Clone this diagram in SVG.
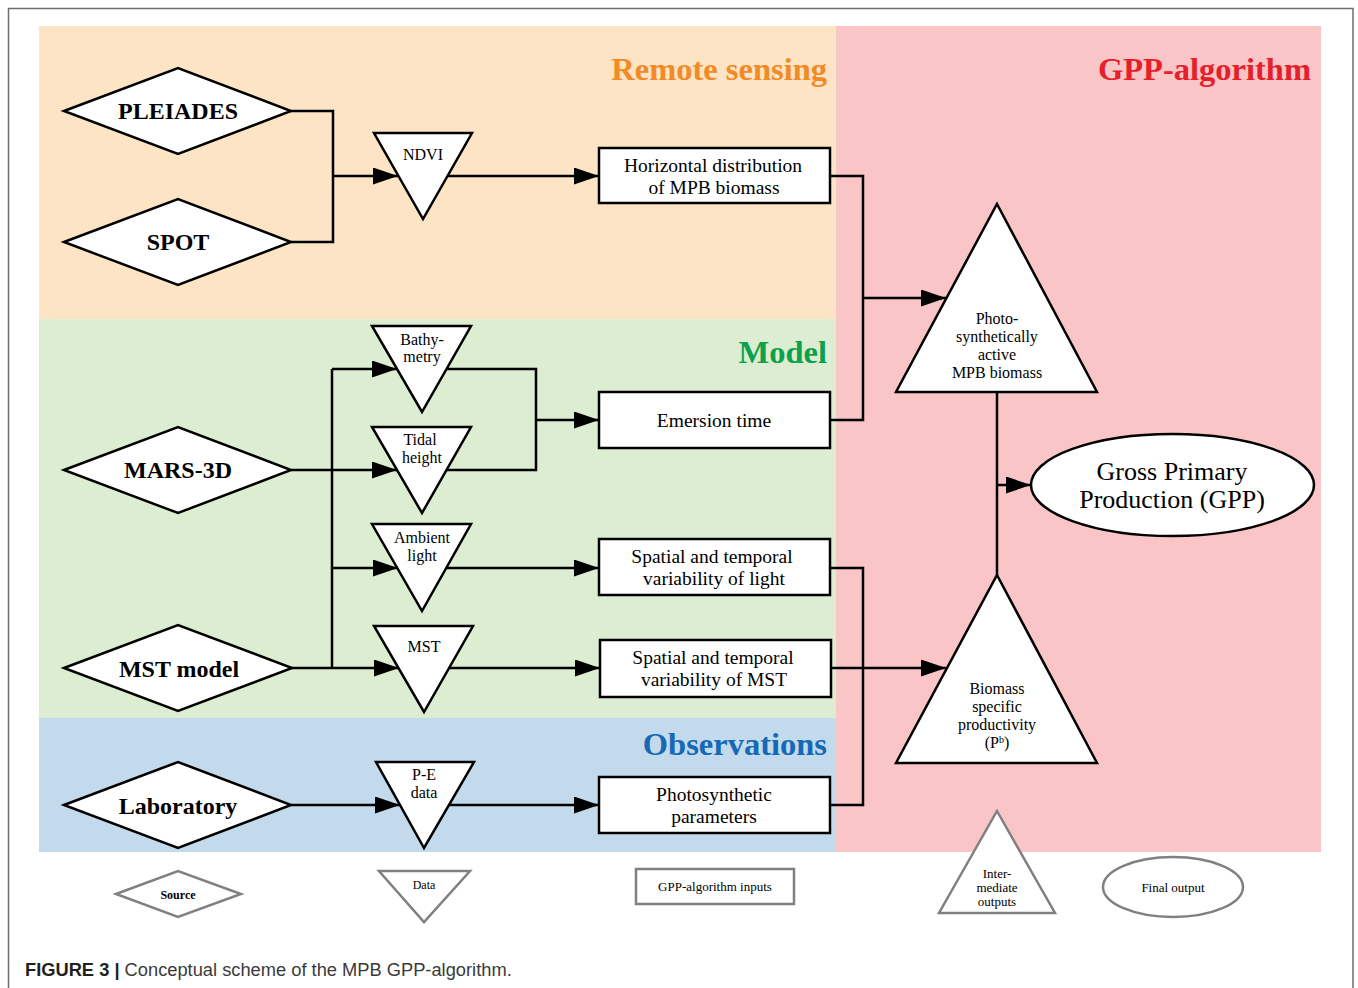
<svg xmlns="http://www.w3.org/2000/svg" width="1358" height="988" viewBox="0 0 1358 988">
<style>
.sh{fill:#fff;stroke:#000;stroke-width:2.5;stroke-linejoin:miter}
.lg{fill:#fff;stroke:#808080;stroke-width:2.5}
.cn{fill:none;stroke:#000;stroke-width:2.5}
.t{font-family:"Liberation Serif","Times New Roman",serif;text-anchor:middle;fill:#000}
.src{font-size:24px;font-weight:bold}
.dat{font-size:16px}
.box{font-size:19.5px}
.mid{font-size:16px}
.ttl{font-family:"Liberation Serif","Times New Roman",serif;font-size:32.5px;font-weight:bold;text-anchor:end}
.leg{font-size:13px}
</style>
<defs>
<marker id="ah" markerUnits="userSpaceOnUse" markerWidth="26" markerHeight="18" refX="25" refY="8.5" orient="auto">
<path d="M0,0 L25,8.5 L0,17 Z" fill="#000"/>
</marker>
</defs>
<rect width="1358" height="988" fill="#fff"/>
<path d="M8.5,988 V8.5 H1353 V988" fill="none" stroke="#6d6d6d" stroke-width="1.5"/>
<g id="backgrounds">
<rect x="39" y="26" width="797" height="293" fill="#fce4c4"/>
<rect x="39" y="319" width="797" height="399" fill="#ddedd2"/>
<rect x="39" y="718" width="797" height="134" fill="#c3daec"/>
<rect x="836" y="26" width="485" height="826" fill="#f9c5c7"/>
</g>
<g id="section-titles">
<text class="ttl" x="827" y="80" fill="#f28a25">Remote sensing</text>
<text class="ttl" x="1311" y="80" fill="#e6202a">GPP-algorithm</text>
<text class="ttl" x="827" y="363" fill="#0ca14c">Model</text>
<text class="ttl" x="827" y="755" fill="#1669b4">Observations</text>
</g>
<g id="connectors">
<path class="cn" d="M291,111 H333 V242 H291"/>
<path class="cn" d="M333,176 H398" marker-end="url(#ah)"/>
<path class="cn" d="M448,176 H599" marker-end="url(#ah)"/>
<path class="cn" d="M830,176 H863 V420 H830"/>
<path class="cn" d="M863,298 H946" marker-end="url(#ah)"/>
<path class="cn" d="M446,369 H536 V470 H446"/>
<path class="cn" d="M536,420 H599" marker-end="url(#ah)"/>
<path class="cn" d="M332,369 V668"/>
<path class="cn" d="M332,369 H397" marker-end="url(#ah)"/>
<path class="cn" d="M291,470 H397" marker-end="url(#ah)"/>
<path class="cn" d="M332,568 H398" marker-end="url(#ah)"/>
<path class="cn" d="M291,668 H399" marker-end="url(#ah)"/>
<path class="cn" d="M447,568 H599" marker-end="url(#ah)"/>
<path class="cn" d="M449,668 H600" marker-end="url(#ah)"/>
<path class="cn" d="M291,805 H400" marker-end="url(#ah)"/>
<path class="cn" d="M448,805 H599" marker-end="url(#ah)"/>
<path class="cn" d="M830,568 H863 V805 H830"/>
<path class="cn" d="M831,668 H946" marker-end="url(#ah)"/>
<path class="cn" d="M997,392 V575"/>
<path class="cn" d="M997,485 H1031" marker-end="url(#ah)"/>
</g>
<g id="pleiades">
<polygon class="sh" points="64,111 178,68 291,111 178,154"/>
<text class="t src" x="178" y="119">PLEIADES</text>
</g>
<g id="spot">
<polygon class="sh" points="64,242 178,199 291,242 178,285"/>
<text class="t src" x="178" y="250">SPOT</text>
</g>
<g id="mars3d">
<polygon class="sh" points="64,470 178,427 291,470 178,513"/>
<text class="t src" x="178" y="478">MARS-3D</text>
</g>
<g id="mstmodel">
<polygon class="sh" points="64,668 178,625 292,668 178,711"/>
<text class="t src" x="179" y="677">MST model</text>
</g>
<g id="laboratory">
<polygon class="sh" points="64,805 178,762 291,805 178,848"/>
<text class="t src" x="178" y="814">Laboratory</text>
</g>
<g id="ndvi">
<polygon class="sh" points="374,133 472,133 423,219"/>
<text class="t dat" x="423" y="160">NDVI</text>
</g>
<g id="bathymetry">
<polygon class="sh" points="372,326 471,326 422,412"/>
<text class="t dat" x="422" y="345">Bathy-</text>
<text class="t dat" x="422" y="362">metry</text>
</g>
<g id="tidal">
<polygon class="sh" points="372,427 471,427 422,513"/>
<text class="t dat" x="420" y="445">Tidal</text>
<text class="t dat" x="422" y="463">height</text>
</g>
<g id="ambient">
<polygon class="sh" points="372,524 471,524 422,611"/>
<text class="t dat" x="422" y="543">Ambient</text>
<text class="t dat" x="422" y="561">light</text>
</g>
<g id="mst">
<polygon class="sh" points="374,626 473,626 424,712"/>
<text class="t dat" x="424" y="652">MST</text>
</g>
<g id="pe">
<polygon class="sh" points="376,762 474,762 424,848"/>
<text class="t dat" x="424" y="780">P-E</text>
<text class="t dat" x="424" y="798">data</text>
</g>
<g id="horizontal">
<rect class="sh" x="599" y="148" width="231" height="55"/>
<text class="t box" x="713" y="172">Horizontal distribution</text>
<text class="t box" x="714" y="194">of MPB biomass</text>
</g>
<g id="emersion">
<rect class="sh" x="599" y="392" width="231" height="56"/>
<text class="t box" x="714" y="427">Emersion time</text>
</g>
<g id="light">
<rect class="sh" x="599" y="539" width="231" height="56"/>
<text class="t box" x="712" y="563">Spatial and temporal</text>
<text class="t box" x="714" y="585">variability of light</text>
</g>
<g id="mstvar">
<rect class="sh" x="600" y="640" width="231" height="57"/>
<text class="t box" x="713" y="664">Spatial and temporal</text>
<text class="t box" x="714" y="686">variability of MST</text>
</g>
<g id="photoparams">
<rect class="sh" x="599" y="777" width="231" height="56"/>
<text class="t box" x="714" y="801">Photosynthetic</text>
<text class="t box" x="714" y="823">parameters</text>
</g>
<g id="photobiomass">
<polygon class="sh" points="997,204 1097,392 896,392"/>
<text class="t mid" x="997" y="324">Photo-</text>
<text class="t mid" x="997" y="342">synthetically</text>
<text class="t mid" x="997" y="360">active</text>
<text class="t mid" x="997" y="378">MPB biomass</text>
</g>
<g id="productivity">
<polygon class="sh" points="997,575 1097,763 896,763"/>
<text class="t mid" x="997" y="694">Biomass</text>
<text class="t mid" x="997" y="712">specific</text>
<text class="t mid" x="997" y="730">productivity</text>
<text class="t mid" x="997" y="748">(P<tspan font-size="10" baseline-shift="super">b</tspan>)</text>
</g>
<g id="gpp">
<ellipse class="sh" cx="1172.5" cy="485" rx="141.5" ry="51"/>
<text class="t" x="1172" y="480" font-size="26">Gross Primary</text>
<text class="t" x="1172" y="508" font-size="26">Production (GPP)</text>
</g>
<g id="legend-source">
<polygon class="lg" points="116,894 178,871 241,894 178,917"/>
<text class="t" x="178" y="899" font-size="12" font-weight="bold">Source</text>
</g>
<g id="legend-data">
<polygon class="lg" points="379,871 470,871 424,922"/>
<text class="t" x="424" y="889" font-size="12">Data</text>
</g>
<g id="legend-inputs">
<rect class="lg" x="636" y="869" width="158" height="35"/>
<text class="t leg" x="715" y="891">GPP-algorithm inputs</text>
</g>
<g id="legend-intermediate">
<polygon class="lg" points="997,811 1055,913 939,913"/>
<text class="t leg" x="997" y="878">Inter-</text>
<text class="t leg" x="997" y="892">mediate</text>
<text class="t leg" x="997" y="906">outputs</text>
</g>
<g id="legend-final">
<ellipse class="lg" cx="1173" cy="887" rx="70" ry="30"/>
<text class="t leg" x="1173" y="892">Final output</text>
</g>
<g id="caption">
<text x="25" y="976" font-family="'Liberation Sans',Arial,sans-serif" font-size="18.3" fill="#231f20"><tspan font-weight="bold">FIGURE 3 |</tspan><tspan fill="#3a3a3a"> Conceptual scheme of the MPB GPP-algorithm.</tspan></text>
</g>
</svg>
